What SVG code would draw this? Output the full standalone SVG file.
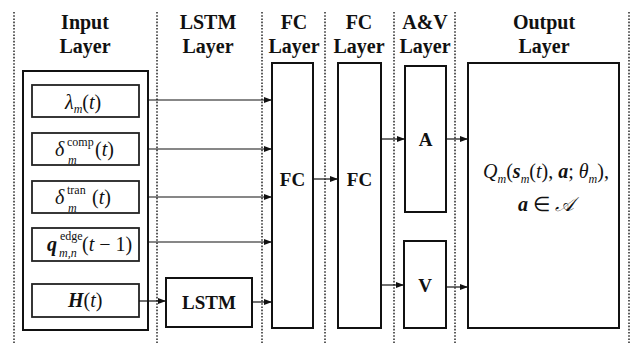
<svg xmlns="http://www.w3.org/2000/svg" width="637" height="346" viewBox="0 0 637 346">
<defs>
<marker id="ah" markerUnits="userSpaceOnUse" markerWidth="8" markerHeight="6" refX="8" refY="3" orient="auto">
<path d="M0,0 L8,3 L0,6 Z" fill="#111"/>
</marker>
</defs>
<rect width="637" height="346" fill="#fff"/>
<g id="guides" stroke="#333" stroke-width="1.6" stroke-dasharray="1.6 1.6" fill="none">
<line x1="14" y1="12" x2="14" y2="343"/>
<line x1="157" y1="12" x2="157" y2="343"/>
<line x1="262" y1="12" x2="262" y2="343"/>
<line x1="325" y1="12" x2="325" y2="343"/>
<line x1="394" y1="12" x2="394" y2="343"/>
<line x1="455" y1="12" x2="455" y2="343"/>
<line x1="629" y1="12" x2="629" y2="343"/>
</g>
<g id="headers">
<text font-family="Liberation Serif" font-weight="bold" font-size="20" text-anchor="middle" fill="#111" x="85" y="29">Input</text>
<text font-family="Liberation Serif" font-weight="bold" font-size="20" text-anchor="middle" fill="#111" x="85" y="53">Layer</text>
<text font-family="Liberation Serif" font-weight="bold" font-size="20" text-anchor="middle" fill="#111" x="208" y="29">LSTM</text>
<text font-family="Liberation Serif" font-weight="bold" font-size="20" text-anchor="middle" fill="#111" x="208" y="53">Layer</text>
<text font-family="Liberation Serif" font-weight="bold" font-size="20" text-anchor="middle" fill="#111" x="294" y="29">FC</text>
<text font-family="Liberation Serif" font-weight="bold" font-size="20" text-anchor="middle" fill="#111" x="294" y="53">Layer</text>
<text font-family="Liberation Serif" font-weight="bold" font-size="20" text-anchor="middle" fill="#111" x="359" y="29">FC</text>
<text font-family="Liberation Serif" font-weight="bold" font-size="20" text-anchor="middle" fill="#111" x="359" y="53">Layer</text>
<text font-family="Liberation Serif" font-weight="bold" font-size="20" text-anchor="middle" fill="#111" x="425" y="29">A&amp;V</text>
<text font-family="Liberation Serif" font-weight="bold" font-size="20" text-anchor="middle" fill="#111" x="425" y="53">Layer</text>
<text font-family="Liberation Serif" font-weight="bold" font-size="20" text-anchor="middle" fill="#111" x="544" y="29">Output</text>
<text font-family="Liberation Serif" font-weight="bold" font-size="20" text-anchor="middle" fill="#111" x="544" y="53">Layer</text>
</g>
<g id="input-layer"><rect x="23" y="71" width="125" height="259" fill="#fff" stroke="#111" stroke-width="2"/></g>
<g id="lambda">
<rect x="32" y="85" width="107" height="32" fill="#fff" stroke="#222" stroke-width="1.8"/>
<text font-family="Liberation Serif" font-size="20" fill="#111" x="65" y="109"><tspan font-style="italic">&#955;</tspan><tspan font-style="italic" font-size="12" dy="4">m</tspan><tspan dy="-4">(</tspan><tspan font-style="italic">t</tspan>)</text>
</g>
<g id="delta-comp">
<rect x="32" y="133" width="107" height="32" fill="#fff" stroke="#222" stroke-width="1.8"/>
<text font-family="Liberation Serif" font-size="20" fill="#111" y="156"><tspan font-style="italic" x="55">&#948;</tspan><tspan font-size="12" x="67" y="146">comp</tspan><tspan font-style="italic" font-size="12" x="68" y="164">m</tspan><tspan x="95" y="156">(</tspan><tspan font-style="italic">t</tspan>)</text>
</g>
<g id="delta-tran">
<rect x="32" y="181" width="107" height="32" fill="#fff" stroke="#222" stroke-width="1.8"/>
<text font-family="Liberation Serif" font-size="20" fill="#111" y="204"><tspan font-style="italic" x="55">&#948;</tspan><tspan font-size="12" x="67" y="194">tran</tspan><tspan font-style="italic" font-size="12" x="68" y="212">m</tspan><tspan x="92" y="204">(</tspan><tspan font-style="italic">t</tspan>)</text>
</g>
<g id="q-edge">
<rect x="32" y="228" width="107" height="33" fill="#fff" stroke="#222" stroke-width="1.8"/>
<text font-family="Liberation Serif" font-size="20" fill="#111" y="251"><tspan font-style="italic" font-weight="bold" x="47">q</tspan><tspan font-size="12" x="60" y="240">edge</tspan><tspan font-style="italic" font-size="12" x="59" y="257">m,n</tspan><tspan x="82" y="251">(</tspan><tspan font-style="italic">t</tspan> &#8722; 1)</text>
</g>
<g id="h">
<rect x="32" y="284" width="107" height="33" fill="#fff" stroke="#222" stroke-width="1.8"/>
<text font-family="Liberation Serif" font-size="20" fill="#111" x="68" y="307"><tspan font-style="italic" font-weight="bold">H</tspan>(<tspan font-style="italic">t</tspan>)</text>
</g>
<g id="lstm">
<rect x="166" y="278" width="86" height="49" fill="#fff" stroke="#111" stroke-width="2"/>
<text font-family="Liberation Serif" font-weight="bold" font-size="19" text-anchor="middle" fill="#111" x="209" y="309">LSTM</text>
</g>
<g id="fc1">
<rect x="272" y="63" width="41" height="265" fill="#fff" stroke="#111" stroke-width="2"/>
<text font-family="Liberation Serif" font-weight="bold" font-size="19" text-anchor="middle" fill="#111" x="292.5" y="186">FC</text>
</g>
<g id="fc2">
<rect x="338" y="63" width="43" height="265" fill="#fff" stroke="#111" stroke-width="2"/>
<text font-family="Liberation Serif" font-weight="bold" font-size="19" text-anchor="middle" fill="#111" x="359.5" y="186">FC</text>
</g>
<g id="a">
<rect x="405" y="66" width="41" height="146" fill="#fff" stroke="#111" stroke-width="2"/>
<text font-family="Liberation Serif" font-weight="bold" font-size="19" text-anchor="middle" fill="#111" x="425.5" y="146">A</text>
</g>
<g id="v">
<rect x="404" y="241" width="42" height="87" fill="#fff" stroke="#111" stroke-width="2"/>
<text font-family="Liberation Serif" font-weight="bold" font-size="19" text-anchor="middle" fill="#111" x="425" y="292">V</text>
</g>
<g id="output">
<rect x="468" y="63" width="151" height="265" fill="#fff" stroke="#111" stroke-width="2"/>
<text font-family="Liberation Serif" font-size="20" text-anchor="middle" fill="#111" x="546" y="178"><tspan font-style="italic">Q</tspan><tspan font-style="italic" font-size="12" dy="5">m</tspan><tspan dy="-5">(</tspan><tspan font-style="italic" font-weight="bold">s</tspan><tspan font-style="italic" font-size="12" dy="5">m</tspan><tspan dy="-5">(</tspan><tspan font-style="italic">t</tspan>), <tspan font-style="italic" font-weight="bold">a</tspan>; <tspan font-style="italic">&#952;</tspan><tspan font-style="italic" font-size="12" dy="5">m</tspan><tspan dy="-5">),</tspan></text>
<text font-family="Liberation Serif" font-size="20" text-anchor="middle" fill="#111" x="546" y="211"><tspan font-style="italic" font-weight="bold">a</tspan> &#8712; <tspan font-style="italic">&#x1D49C;</tspan></text>
</g>
<g id="connectors" stroke="#111" stroke-width="1.2" fill="none" marker-end="url(#ah)">
<path d="M148 100 H272"/>
<path d="M148 149 H272"/>
<path d="M148 197 H272"/>
<path d="M148 242 H272"/>
<path d="M139 301 H166"/>
<path d="M252 302 H272"/>
<path d="M313 179 H338"/>
<path d="M381 139 H405"/>
<path d="M381 285 H404"/>
<path d="M446 139 H468"/>
<path d="M446 287 H468"/>
</g>
</svg>
